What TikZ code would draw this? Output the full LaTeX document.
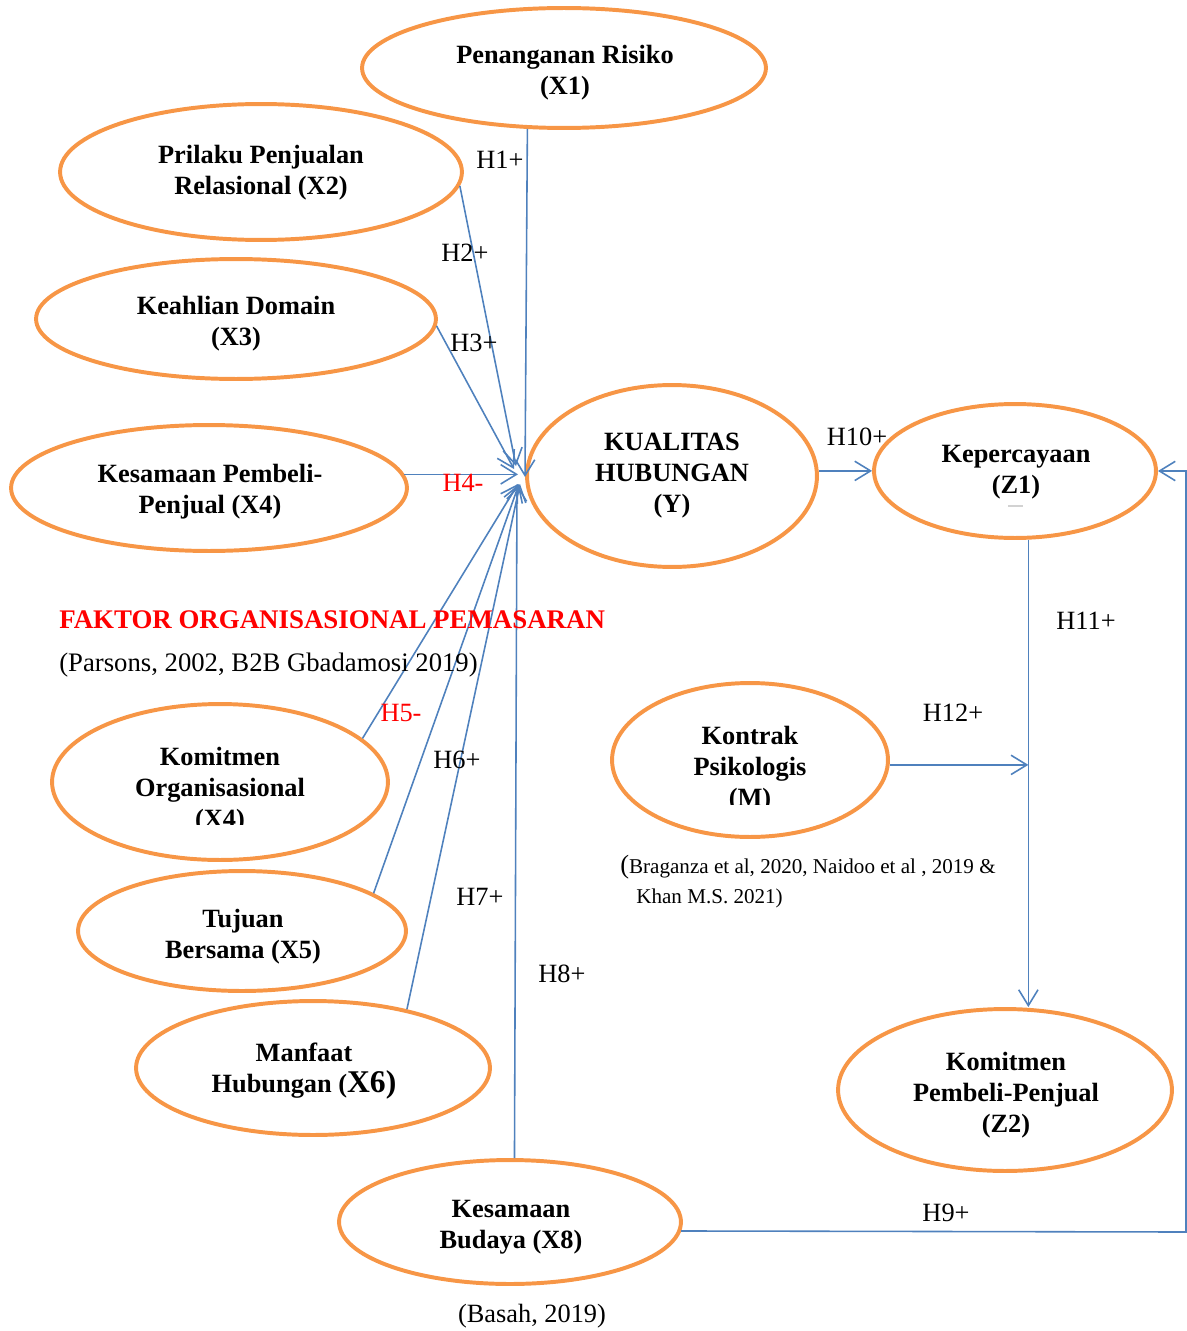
\documentclass[tikz,border=0pt]{standalone}
\usepackage{fontspec}
\setmainfont{Liberation Serif}
\usetikzlibrary{shapes.geometric,arrows.meta}
\definecolor{ellorange}{HTML}{F79646}
\definecolor{arrblue}{HTML}{4F81BD}
\begin{document}
\begin{tikzpicture}[x=0.02cm,y=-0.02cm,
  ell/.style 2 args={ellipse, draw=ellorange, line width=2.25pt, minimum width=#1*0.04cm, minimum height=#2*0.04cm, inner sep=0pt},
  ltext/.style={align=center, inner sep=0pt, font=\fontsize{15}{17.6}\selectfont\bfseries},
  conn/.style={draw=arrblue, line width=0.9pt},
  arr/.style={conn, -{Straight Barb[length=9pt,width=11pt]}},
  hlab/.style={font=\fontsize{15}{18}\selectfont, inner sep=0pt},
  hred/.style={hlab, text=red},
  cite/.style={font=\fontsize{15.2}{18}\selectfont, inner sep=0pt, anchor=west},
  smallcite/.style={font=\fontsize{12}{14}\selectfont, inner sep=0pt, anchor=west}
]
\useasboundingbox (0,0) rectangle (1186,1331);

% ellipses
\node[ell={202}{60}] (X1) at (564,68) {};
\node[ell={201}{68}] (X2) at (261,172) {};
\node[ell={200}{60}] (X3) at (236,319) {};
\node[ell={198}{63}] (X4) at (209,488) {};
\node[ell={145}{91}] (Y) at (672,476) {};
\node[ell={141}{67}] (Z1) at (1015,471) {};
\node[ell={168}{78}] (X5) at (220,782) {};
\node[ell={164}{60}] (X6) at (242,931) {};
\node[ell={177}{67}] (X7) at (313,1068) {};
\node[ell={171}{62}] (X8) at (510,1222) {};
\node[ell={138}{77}] (M) at (750,760) {};
\node[ell={167}{81}] (Z2) at (1005,1090) {};

% texts
\node[ltext] (X1t) at (565,73) {Penanganan Risiko\\(X1)};
\node[ltext] (X2t) at (261,172.5) {Prilaku Penjualan\\Relasional (X2)};
\node[ltext] (X3t) at (236,324) {Keahlian Domain\\(X3)};
\node[ltext] (X4t) at (210,491.5) {Kesamaan Pembeli-\\Penjual (X4)};
\node[ltext] (Yt) at (672,475.5) {KUALITAS\\HUBUNGAN\\(Y)};
\node[ltext] (Z1t) at (1016,472) {Kepercayaan\\(Z1)};
\node[ltext] (X6t) at (243,937) {Tujuan\\Bersama (X5)};
\node[ltext] (X7t) at (304,1071) {Manfaat\\Hubungan (\fontsize{18}{18}\selectfont X6)};
\node[ltext] (X8t) at (511,1227) {Kesamaan\\Budaya (X8)};
\node[ltext] (Z2t) at (1006,1095.5) {Komitmen\\Pembeli-Penjual\\(Z2)};
\begin{scope}
\clip (40,690) rectangle (400,824);
\node[ltext] (X5t) at (220,790) {Komitmen\\Organisasional\\(X4)};
\end{scope}
\begin{scope}
\clip (600,670) rectangle (900,804);
\node[ltext] (Mt) at (750,769) {Kontrak\\Psikologis\\(M)};
\end{scope}
\draw[gray!35, line width=0.6pt] (1008,506) -- (1023,506);

% arrow tip coordinates near Y
\coordinate (tX1) at (525,477);
\coordinate (tX2) at (516,466);
\coordinate (tX3) at (514,469);
\coordinate (tX4) at (518,472);
\coordinate (tX5) at (518,484);
\coordinate (tX6) at (519,484);
\coordinate (tX7) at (520,484);
\coordinate (tX8) at (517,484);

\draw[arr] (X1.239) -- (tX1);
\draw[arr] (X2.356.6) -- (tX2);
\draw[arr] (X3.358.2) -- (tX3);
\draw[arr] (X4.4.6) -- (X4.4.6 -| tX4);
\draw[arr] (X5.17.7) -- (tX5);
\draw[arr] (X6.16.3) -- (tX6);
\draw[arr] (X7.32.7) -- (tX7);
\draw[arr] (X8.86.3) -- (tX8);

\draw[arr] (Y.2) -- (Y.2 -| Z1.west);
\draw[arr] (Z1.281) -- (Z1.281 |- Z2.north);
\draw[arr] (M.358) -- (M.358 -| Z1.281);
\coordinate (c1) at (1186,1232);
\coordinate (c2) at (1186,471);
\draw[arr] (X8.357) -- (c1) -- (c2) -- (Z1.east);

% hypothesis labels
\node[hlab] (h1) at (500,160) {H1+};
\node[hlab] (h2) at (465,253) {H2+};
\node[hlab] (h3) at (474,343) {H3+};
\node[hred] (h4) at (463,483) {H4-};
\node[hred] (h5) at (401,713) {H5-};
\node[hlab] (h6) at (457,760) {H6+};
\node[hlab] (h7) at (480,897) {H7+};
\node[hlab] (h8) at (562,974) {H8+};
\node[hlab] (h9) at (946,1213) {H9+};
\node[hlab] (h10) at (857,437) {H10+};
\node[hlab] (h11) at (1086,621) {H11+};
\node[hlab] (h12) at (953,713) {H12+};

% titles and citations
\node[cite, text=red, font=\fontsize{15.3}{18}\selectfont\bfseries] (title) at (59,620) {FAKTOR ORGANISASIONAL PEMASARAN};
\node[cite] (cite1) at (59,665) {(Parsons, 2002, B2B Gbadamosi 2019)};
\node[smallcite] (cite2) at (620,867) {{\fontsize{15}{18}\selectfont(}Braganza et al, 2020, Naidoo et al , 2019 \&};
\node[smallcite] (cite3) at (636,898) {Khan M.S. 2021)};
\node[font=\fontsize{15}{18}\selectfont, inner sep=0pt] (cite4) at (532,1316) {(Basah, 2019)};
\end{tikzpicture}
\end{document}
